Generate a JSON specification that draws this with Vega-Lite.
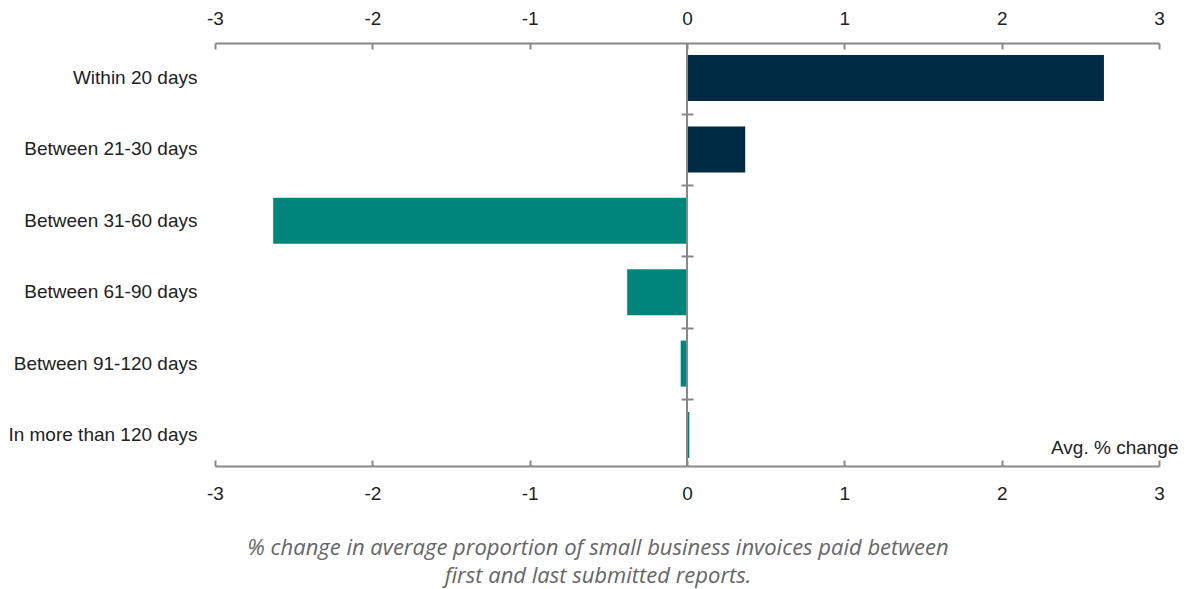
{
  "$schema": "https://vega.github.io/schema/vega-lite/v6.json",
  "width": 944,
  "height": 423,
  "autosize": {"type": "none"},
  "padding": {"left": 215, "top": 43, "right": 29, "bottom": 123},
  "background": "white",
  "config": {
    "view": {"stroke": null},
    "font": "Liberation Sans",
    "axis": {"grid": false, "labelFont": "Liberation Sans", "labelFontSize": 19, "labelColor": "#222222", "domainColor": "#888888", "tickColor": "#888888", "domainWidth": 2, "tickWidth": 2, "labelOverlap": false, "labelLimit": 400}
  },
  "title": {
    "text": ["% change in average proportion of small business invoices paid between", "first and last submitted reports."],
    "orient": "bottom",
    "anchor": "middle",
    "frame": "group",
    "dx": -89,
    "offset": 35,
    "font": "Open Sans",
    "fontStyle": "italic",
    "fontWeight": "normal",
    "fontSize": 22,
    "lineHeight": 28,
    "color": "#666666"
  },
  "data": {
    "values": [
      {"category": "Within 20 days", "value": 2.65, "group": "within"},
      {"category": "Between 21-30 days", "value": 0.37, "group": "within"},
      {"category": "Between 31-60 days", "value": -2.63, "group": "late"},
      {"category": "Between 61-90 days", "value": -0.38, "group": "late"},
      {"category": "Between 91-120 days", "value": -0.04, "group": "late"},
      {"category": "In more than 120 days", "value": 0.015, "group": "late"}
    ]
  },
  "resolve": {"axis": {"x": "independent", "y": "independent"}},
  "layer": [
    {
      "mark": {"type": "bar"},
      "encoding": {
        "y": {
          "field": "category", "type": "nominal", "sort": null,
          "scale": {"paddingInner": 0.356, "paddingOuter": 0.14, "align": 0.6},
          "axis": {"orient": "left", "title": null, "domain": false, "ticks": false, "labelPadding": 18}
        },
        "x": {
          "field": "value", "type": "quantitative",
          "scale": {"domain": [-3, 3], "nice": false},
          "axis": {"orient": "top", "title": null, "values": [-3, -2, -1, 0, 1, 2, 3], "labelExpr": "datum.value + ''", "labelFlush": false, "tickSize": -6, "labelPadding": 21}
        },
        "color": {
          "field": "group", "type": "nominal",
          "scale": {"domain": ["within", "late"], "range": ["#002B45", "#00857C"]},
          "legend": null
        }
      }
    },
    {
      "mark": {"type": "bar", "opacity": 0},
      "encoding": {
        "y": {
          "field": "category", "type": "nominal", "sort": null,
          "axis": {"orient": "left", "title": null, "domain": false, "labels": false, "ticks": true, "tickBand": "center", "tickOffset": 35.7, "tickSize": 12, "offset": -478,
                   "values": ["Within 20 days", "Between 21-30 days", "Between 31-60 days", "Between 61-90 days", "Between 91-120 days"]}
        },
        "x": {
          "field": "value", "type": "quantitative",
          "axis": {"orient": "bottom", "title": "Avg. % change", "values": [-3, -2, -1, 0, 1, 2, 3], "labelExpr": "datum.value + ''", "labelFlush": false, "tickSize": -6, "labelPadding": 24,
                   "titleFont": "Liberation Sans", "titleFontSize": 19, "titleFontWeight": "normal", "titleColor": "#222222",
                   "titleAnchor": "end", "titleAlign": "right", "titleX": 963, "titleY": -13, "titleBaseline": "alphabetic"}
        }
      }
    },
    {
      "mark": {"type": "rule", "color": "#888888", "strokeWidth": 2},
      "encoding": {"x": {"datum": 0, "type": "quantitative", "axis": null}}
    }
  ]
}
